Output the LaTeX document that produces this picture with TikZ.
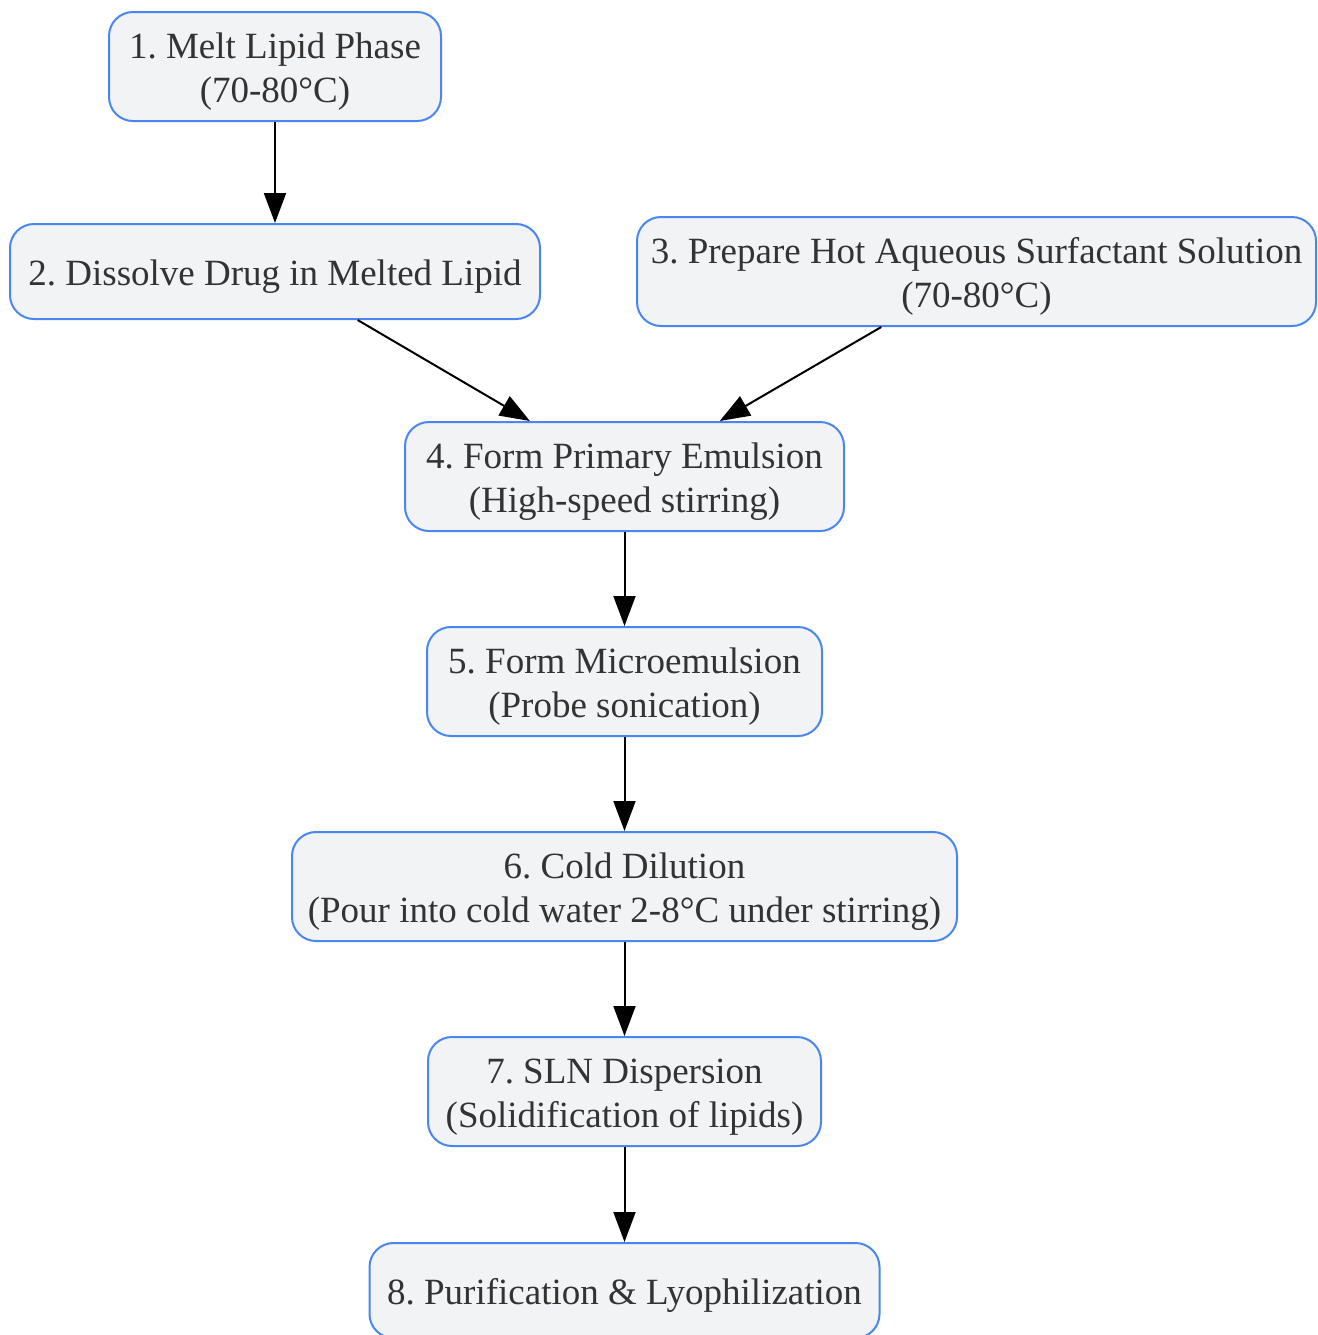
\documentclass[tikz,border=0pt]{standalone}
\usepackage{fontspec}
\setmainfont{Liberation Serif}
\usetikzlibrary{arrows.meta}
\definecolor{boxfill}{HTML}{F1F3F5}
\definecolor{boxline}{HTML}{4A86F0}
\definecolor{boxtext}{HTML}{333333}
\frenchspacing

\begin{document}
\begin{tikzpicture}[x=0.5pt, y=-0.5pt, node distance={102.5pt},
    stepbox/.style = {draw=boxline, fill=boxfill, line width=1pt, rounded corners=12pt,
      align=center, text=boxtext, inner sep=0pt, minimum height=47.5pt, text height=18pt,
      font=\fontsize{18.5}{22}\selectfont},
    twoline/.style = {minimum height=54.5pt, text height=40pt},
    flow/.style = {-{Triangle[length=15pt,width=11pt]}, line width=1pt}]
    \useasboundingbox (0,0) rectangle (1318,1335);

    \node[stepbox, twoline, minimum width=166pt] (n1) at (275,66.5) {1. Melt Lipid Phase\\(70-80°C)};
    \node[stepbox, minimum width=265pt] (n2) [below of=n1] {2. Dissolve Drug in Melted Lipid};
    \node[stepbox, twoline, minimum width=339.5pt] (n3) [node distance=350.75pt, right of=n2] {3. Prepare Hot Aqueous Surfactant Solution\\(70-80°C)};
    \node[stepbox, twoline, minimum width=219.5pt] (n4) at (624.5,476.5) {4. Form Primary Emulsion\\(High-speed stirring)};
    \node[stepbox, twoline, minimum width=197.5pt] (n5) [below of=n4] {5. Form Microemulsion\\(Probe sonication)};
    \node[stepbox, twoline, minimum width=332.5pt] (n6) [below of=n5] {6. Cold Dilution\\(Pour into cold water 2-8°C under stirring)};
    \node[stepbox, twoline, minimum width=196.5pt] (n7) [below of=n6] {7. SLN Dispersion\\(Solidification of lipids)};
    \node[stepbox, minimum width=255pt] (n8) [node distance=99.5pt, below of=n7] {8. Purification \& Lyophilization};

    \path[flow] (n1) edge (n2);
    \path[flow] (n2) edge (n4);
    \path[flow] (n3) edge (n4);
    \path[flow] (n4) edge (n5);
    \path[flow] (n5) edge (n6);
    \path[flow] (n6) edge (n7);
    \path[flow] (n7) edge (n8);
\end{tikzpicture}
\end{document}
